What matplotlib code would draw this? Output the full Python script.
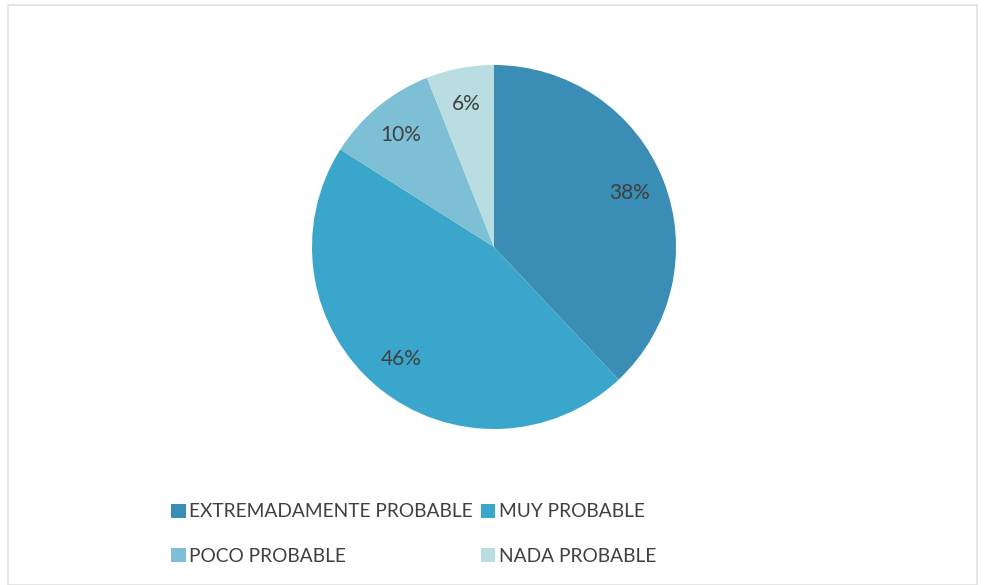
import matplotlib
matplotlib.use("Agg")
import matplotlib.pyplot as plt
from matplotlib.patches import Patch, Rectangle

plt.rcParams['font.family'] = ['Lato', 'DejaVu Sans']

categories = ["EXTREMADAMENTE PROBABLE", "MUY PROBABLE", "POCO PROBABLE", "NADA PROBABLE"]
values = [38, 46, 10, 6]
colors = ["#3a8db4", "#3ba6cb", "#7dbfd5", "#b9dde0"]

fig = plt.figure(figsize=(9.85, 5.85), dpi=100)
fig.patch.set_facecolor("white")

# faint chart border
fig.add_artist(Rectangle((8/985, 0.0), 1 - 16/985, 1 - 5/585, transform=fig.transFigure,
                         fill=False, edgecolor="#e2e2e2", linewidth=1.2))

w, h = 364/985, 364/585
ax = fig.add_axes([494/985 - w/2, (1 - 247/585) - h/2, w, h])
wedges, texts, autotexts = ax.pie(values, colors=colors, startangle=90, counterclock=False,
                                  autopct=lambda p: f"{p:.0f}%", pctdistance=0.8,
                                  textprops=dict(color="#404040", fontsize=15))
ax.set_xlim(-1, 1)
ax.set_ylim(-1, 1)
ax.set_aspect("equal")

handles = [Patch(facecolor=c, edgecolor="none") for c in colors]
order = [0, 2, 1, 3]
fig.legend([handles[i] for i in order], [categories[i] for i in order], ncol=2,
           loc="upper left", bbox_to_anchor=(154/985, 1 - 486/585), frameon=False,
           fontsize=13.8, labelcolor="#404040", handlelength=0.75, handleheight=0.75,
           handletextpad=0.2, columnspacing=0.4, labelspacing=1.45)

fig.savefig("out.png", dpi=100)
